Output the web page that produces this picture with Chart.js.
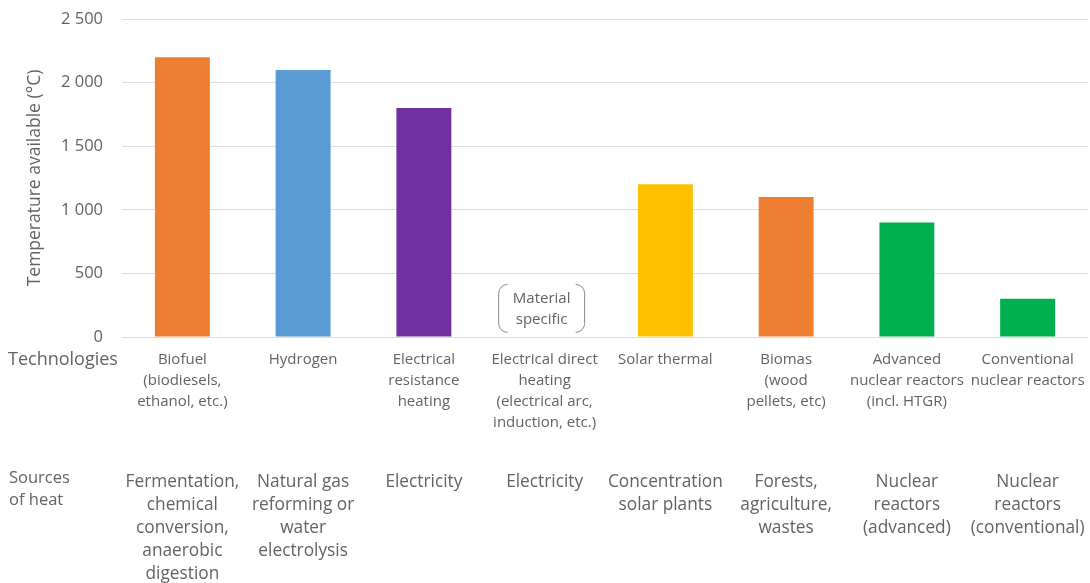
<!DOCTYPE html>
<html>
<head>
<meta charset="utf-8">
<script src="https://cdn.jsdelivr.net/npm/chart.js@4"></script>
<style>
  html, body { margin: 0; padding: 0; background: #fff; }
  #wrap { width: 1090px; height: 583px; position: relative; }
</style>
</head>
<body>
<div id="wrap"><canvas id="c"></canvas></div>
<script>
// ---- data ----
const technologies = [
  ['Biofuel', '(biodiesels,', 'ethanol, etc.)'],
  ['Hydrogen'],
  ['Electrical', 'resistance', 'heating'],
  ['Electrical direct', 'heating', '(electrical arc,', 'induction, etc.)'],
  ['Solar thermal'],
  ['Biomas', '(wood', 'pellets, etc)'],
  ['Advanced', 'nuclear reactors', '(incl. HTGR)'],
  ['Conventional', 'nuclear reactors']
];
const sources = [
  ['Fermentation,', 'chemical', 'conversion,', 'anaerobic', 'digestion'],
  ['Natural gas', 'reforming or', 'water', 'electrolysis'],
  ['Electricity'],
  ['Electricity'],
  ['Concentration', 'solar plants'],
  ['Forests,', 'agriculture,', 'wastes'],
  ['Nuclear', 'reactors', '(advanced)'],
  ['Nuclear', 'reactors', '(conventional)']
];
const temperatures = [2200, 2100, 1800, null, 1200, 1100, 900, 300];
const barColors = ['#ED7D31', '#5B9BD5', '#7030A0', '#FFC000', '#FFC000', '#ED7D31', '#00B050', '#00B050'];
const yTicks = [0, 500, 1000, 1500, 2000, 2500];
const noteIndex = 3;
const noteLines = ['Material', 'specific'];
const noteValue = 225;

const FONT = '"Open Sans", "Noto Sans", sans-serif';
const GREY = '#636363';

function fmt(v) {
  return String(v).replace(/\B(?=(\d{3})+(?!\d))/g, '\u00a0');
}

const extras = {
  id: 'extras',
  afterDraw(chart) {
    const ctx = chart.ctx;
    const x = chart.scales.x, x2 = chart.scales.x2, y = chart.scales.y;
    ctx.save();
    ctx.fillStyle = GREY;
    ctx.textBaseline = 'middle';
    ctx.textAlign = 'left';
    ctx.font = '18px ' + FONT;
    ctx.fillText('Technologies', 8, x.top + 23);
    ctx.font = '16.5px ' + FONT;
    ctx.fillText('Sources', 9, x2.top + 23);
    ctx.fillText('of heat', 9, x2.top + 45);

    // note bracket
    const cx = x.getPixelForValue(noteIndex) - 3;
    const cy = y.getPixelForValue(noteValue);
    const w = 86, h = 48, r = 9;
    const L = cx - w / 2, R = cx + w / 2, T = cy - h / 2, B = cy + h / 2;
    ctx.strokeStyle = '#8a8a8a';
    ctx.lineWidth = 1;
    ctx.beginPath();
    ctx.moveTo(L + r, T);
    ctx.arcTo(L, T, L, T + r, r);
    ctx.lineTo(L, B - r);
    ctx.arcTo(L, B, L + r, B, r);
    ctx.moveTo(R - r, T);
    ctx.arcTo(R, T, R, T + r, r);
    ctx.lineTo(R, B - r);
    ctx.arcTo(R, B, R - r, B, r);
    ctx.stroke();
    ctx.textAlign = 'center';
    ctx.font = '15px ' + FONT;
    ctx.fillStyle = GREY;
    ctx.fillText(noteLines[0], cx, cy - 10);
    ctx.fillText(noteLines[1], cx, cy + 11);
    ctx.restore();
  }
};

function noSidePad(scale) { scale.paddingLeft = 0; scale.paddingRight = 0; }

new Chart(document.getElementById('c'), {
  type: 'bar',
  data: {
    labels: technologies,
    datasets: [{
      data: temperatures,
      backgroundColor: barColors,
      borderWidth: 0,
      barPercentage: 0.455,
      categoryPercentage: 1.0
    }]
  },
  options: {
    responsive: true,
    maintainAspectRatio: false,
    animation: false,
    layout: { padding: { top: 19, right: 2, left: 0, bottom: 0 } },
    plugins: { legend: { display: false }, tooltip: { enabled: false } },
    scales: {
      y: {
        min: 0, max: 2500,
        afterBuildTicks(scale) { scale.ticks = yTicks.map(v => ({ value: v })); },
        afterFit(scale) { scale.width = 122; scale.paddingTop = 0; scale.paddingBottom = 0; },
        grid: { color: '#dedede', drawTicks: false, lineWidth: 1 },
        border: { display: false },
        ticks: {
          padding: 19,
          color: GREY,
          font: { family: FONT, size: 16.5 },
          callback: v => fmt(v)
        },
        title: {
          display: true,
          text: 'Temperature available (°C)',
          color: GREY,
          font: { family: FONT, size: 17.5 },
          padding: { top: 25, bottom: 0 }
        }
      },
      x: {
        position: 'bottom',
        afterFit(scale) { scale.height = 118; noSidePad(scale); },
        grid: { display: false },
        border: { display: false },
        ticks: {
          padding: 4,
          maxRotation: 0,
          autoSkip: false,
          color: GREY,
          font: { family: FONT, size: 15, lineHeight: 1.4 }
        }
      },
      x2: {
        type: 'category',
        position: 'bottom',
        labels: sources,
        offset: true,
        grid: { display: false },
        border: { display: false },
        afterFit(scale) { scale.height = 128; noSidePad(scale); },
        ticks: {
          padding: 8,
          maxRotation: 0,
          autoSkip: false,
          color: GREY,
          font: { family: FONT, size: 17.3, lineHeight: 1.33 }
        }
      }
    }
  },
  plugins: [extras]
});
</script>
</body>
</html>
